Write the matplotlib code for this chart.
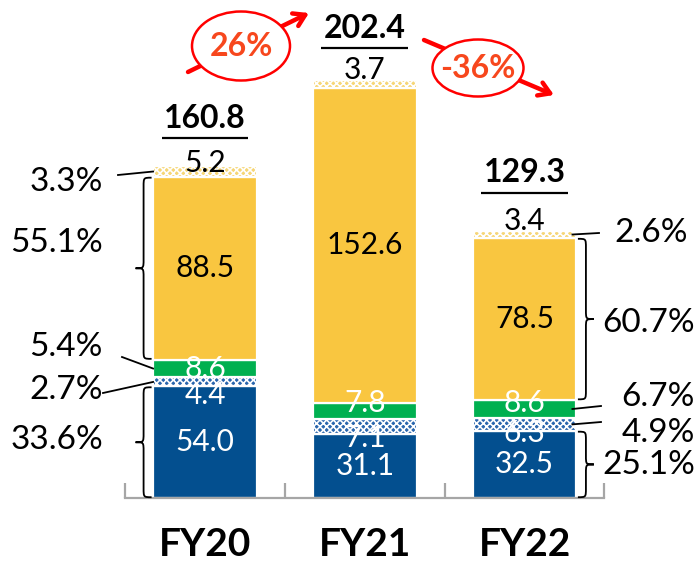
import numpy as np
import matplotlib
matplotlib.use("Agg")
import matplotlib.pyplot as plt
from matplotlib.patches import Ellipse, PathPatch
from matplotlib.path import Path

# data
years = ["FY20", "FY21", "FY22"]
seg_blue = [54.0, 31.1, 32.5]
seg_blue_hatch = [4.4, 7.1, 6.3]
seg_green = [8.6, 7.8, 8.6]
seg_yellow = [88.5, 152.6, 78.5]
seg_yellow_hatch = [5.2, 3.7, 3.4]
totals = [160.8, 202.4, 129.3]
growth = ["26%", "-36%"]
share_fy20 = ["33.6%", "2.7%", "5.4%", "55.1%", "3.3%"]
share_fy22 = ["25.1%", "4.9%", "6.7%", "60.7%", "2.6%"]

plt.rcParams['font.family'] = ['Lato', 'DejaVu Sans']
plt.rcParams['hatch.linewidth'] = 1.2

# pixel <-> data helpers (figure is 699x562 px)
X0, DX = 205.0, 159.75   # px of FY20 centre, px per category
Y0, DY = 498.0, 2.065    # px of baseline, px per unit


def dx(px):
    return (px - X0) / DX


def dy(py):
    return (Y0 - py) / DY


fig = plt.figure(figsize=(6.99, 5.62), dpi=100)
ax = fig.add_axes([0, (562 - Y0) / 562, 1, Y0 / 562])
ax.set_xlim(dx(0), dx(699))
ax.set_ylim(0, dy(0))

x = np.arange(len(years))
width = 0.65
segments = [seg_blue, seg_blue_hatch, seg_green, seg_yellow, seg_yellow_hatch]
colors = ["#034f8f", "#2a66ad", "#00b050", "#f9c640", "#f6d676"]
hatches = [None, "xxxxx", None, None, "xxxxx"]

bottom = np.zeros(len(years))
bounds = []
for vals, c, h in zip(segments, colors, hatches):
    vals = np.array(vals)
    ax.bar(x, vals, width=width, bottom=bottom, color=c, edgecolor="white",
           linewidth=1.6, hatch=h, zorder=2)
    bounds.append((bottom.copy(), bottom + vals))
    bottom = bottom + vals

# axis line and ticks
for s in ["left", "right", "top"]:
    ax.spines[s].set_visible(False)
ax.spines["bottom"].set_bounds(-0.5, 2.5)
ax.spines["bottom"].set_color("#a6a6a6")
ax.spines["bottom"].set_linewidth(1.6)
ax.set_yticks([])
ax.set_xticks(x)
ax.set_xticklabels(years, fontsize=28, fontweight="bold")
ax.tick_params(axis="x", which="major", length=0, pad=21)
ax.set_xticks([-0.5, 0.5, 1.5, 2.5], minor=True)
ax.tick_params(axis="x", which="minor", direction="in", length=11,
               width=1.6, color="#a6a6a6")

# segment labels
fs = 21.5
blue_off = [9, 4, 2]       # px below blue top for hatched label
green_off = [0, 8, 6]      # px above green centre
top_off = [3, 10, 10]      # px above top of bars for small top label
total_off = [48, 52, 58]   # px above top for totals
for i in range(len(years)):
    b0, b1 = bounds[0][0][i], bounds[0][1][i]
    ax.text(x[i], (b0 + b1) / 2, f"{seg_blue[i]:.1f}", ha="center", va="center",
            color="white", fontsize=fs, zorder=4)
    ax.text(x[i], b1 - blue_off[i] / DY, f"{seg_blue_hatch[i]:.1f}", ha="center",
            va="center", color="white", fontsize=fs, zorder=4)
    g0, g1 = bounds[2][0][i], bounds[2][1][i]
    ax.text(x[i], (g0 + g1) / 2 + green_off[i] / DY, f"{seg_green[i]:.1f}",
            ha="center", va="center", color="white", fontsize=fs, zorder=4)
    y0_, y1_ = bounds[3][0][i], bounds[3][1][i]
    ax.text(x[i], (y0_ + y1_) / 2, f"{seg_yellow[i]:.1f}", ha="center",
            va="center", color="black", fontsize=fs, zorder=4)
    top = bounds[4][1][i]
    ax.text(x[i], top + top_off[i] / DY, f"{seg_yellow_hatch[i]:.1f}", ha="center",
            va="center", color="black", fontsize=fs, zorder=4)
    ax.text(x[i], top + total_off[i] / DY, f"{totals[i]:.1f}", ha="center",
            va="center", color="black", fontsize=23, fontweight="bold", zorder=4)
    uy = top + (total_off[i] - 20) / DY
    ax.plot([x[i] - 0.272, x[i] + 0.272], [uy, uy], color="black", lw=1.6,
            solid_capstyle="butt", zorder=4)


# braces
def brace(x_end, x_tip, y0, y1, r_px=9):
    xm = (x_end + x_tip) / 2
    ym = (y0 + y1) / 2
    r = r_px / DY
    verts = [(x_end, y0), (xm, y0), (xm, y0), (xm, y0 + r),
             (xm, ym - r),
             (xm, ym), (xm, ym), (x_tip, ym),
             (xm, ym), (xm, ym), (xm, ym + r),
             (xm, y1 - r),
             (xm, y1), (xm, y1), (x_end, y1)]
    codes = [Path.MOVETO, Path.CURVE4, Path.CURVE4, Path.CURVE4,
             Path.LINETO,
             Path.CURVE4, Path.CURVE4, Path.CURVE4,
             Path.CURVE4, Path.CURVE4, Path.CURVE4,
             Path.LINETO,
             Path.CURVE4, Path.CURVE4, Path.CURVE4]
    ax.add_patch(PathPatch(Path(verts, codes), fill=False, lw=1.3,
                           edgecolor="black", zorder=3, clip_on=False))


left_end = x[0] - width / 2 - 1.5 / DX
right_end = x[2] + width / 2 + 1.5 / DX
for k in [0, 3]:
    brace(left_end, left_end - 16 / DX, bounds[k][0][0] + 0.8 / DY, bounds[k][1][0] - 0.8 / DY)
    brace(right_end, right_end + 16 / DX, bounds[k][0][2] + 0.8 / DY, bounds[k][1][2] - 0.8 / DY)

# share labels (pixel positions), order: blue, blue hatch, green, yellow, yellow hatch
fy20_label_py = [440, 390, 347, 243, 182]
fy22_label_py = [465, 433, 397, 323, 233]
fy22_label_px = [695, 695, 695, 695, 688]
for k in range(5):
    ax.text(dx(103), dy(fy20_label_py[k]), share_fy20[k], ha="right", va="center",
            fontsize=24, color="black")
    ax.text(dx(fy22_label_px[k]), dy(fy22_label_py[k]), share_fy22[k], ha="right",
            va="center", fontsize=24, color="black")

# leader lines for thin segments: start px, segment index
fy20_leaders = [((118, 175), 4), ((122, 357), 2), ((103, 393), 1)]
fy22_leaders = [((599, 233), 4), ((601, 406), 2), ((601, 422), 1)]
for (px, py), k in fy20_leaders:
    yc = (bounds[k][0][0] + bounds[k][1][0]) / 2
    ax.plot([dx(px), x[0] - width / 2], [dy(py), yc], color="black", lw=1.3, zorder=3)
for (px, py), k in fy22_leaders:
    yc = (bounds[k][0][2] + bounds[k][1][2]) / 2
    ax.plot([dx(px), x[2] + width / 2 - 4 / DX], [dy(py), yc], color="black", lw=1.3, zorder=5)

# growth arrows with circled percentages
red = "#ff0000"
arrows = [((188, 72), (309, 13)), ((424, 40), (554, 95))]
ell = [((241, 46), 98, 69), ((478, 68), 91, 57)]
for (p0, p1), ((cx, cy), ew, eh), txt in zip(arrows, ell, growth):
    ax.annotate("", xy=(dx(p1[0]), dy(p1[1])), xytext=(dx(p0[0]), dy(p0[1])),
                arrowprops=dict(arrowstyle="->,head_length=0.8,head_width=0.5",
                                color=red, lw=3.2, shrinkA=0, shrinkB=0),
                zorder=5, annotation_clip=False)
    ax.add_patch(Ellipse((dx(cx), dy(cy)), ew / DX, eh / DY, facecolor="white",
                         edgecolor=red, lw=1.8, zorder=6))
    ax.text(dx(cx), dy(cy), txt, ha="center", va="center", fontsize=23,
            fontweight="bold", color="#f7471d", zorder=7)

fig.savefig("out.png", dpi=100)
